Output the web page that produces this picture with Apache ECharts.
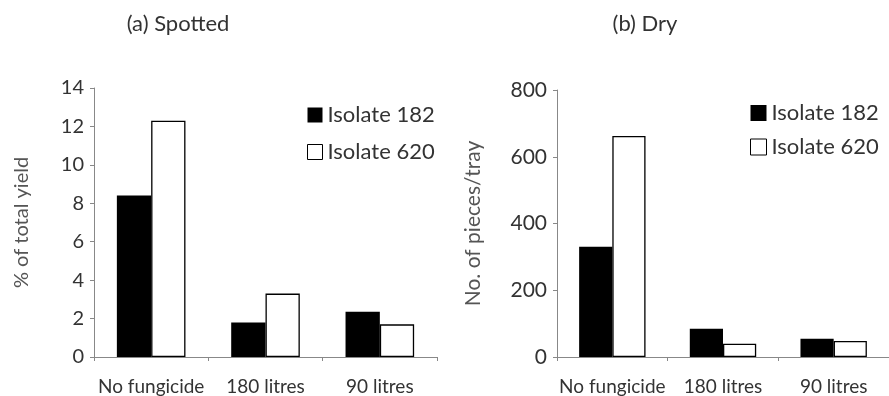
<!DOCTYPE html>
<html><head><meta charset="utf-8">
<script src="https://cdn.jsdelivr.net/npm/echarts@6/dist/echarts.min.js"></script>
<style>html,body{margin:0;padding:0;background:#fff}#c{width:889px;height:396px}</style>
</head><body><div id="c"></div>
<script>
var categories = ['No fungicide', '180 litres', '90 litres'];
var seriesNames = ['Isolate 182', 'Isolate 620'];
var spotted182 = [8.4, 1.8, 2.35];
var spotted620 = [12.3, 3.3, 1.7];
var dry182 = [330, 85, 55];
var dry620 = [662, 40, 48];
var spottedTicks = [0, 14, 2];
var dryTicks = [0, 800, 200];

var FONT = 'Lato';
var TXT = '#333';
var chart = echarts.init(document.getElementById('c'));
function xAxis(gi){
  return {type:'category', gridIndex:gi, data:categories,
    axisLine:{lineStyle:{color:'#888', width:1}},
    axisTick:{show:true, length:4, lineStyle:{color:'#888'}},
    axisLabel:{color:TXT, fontFamily:FONT, fontSize:19, margin:20, interval:0}};
}
function yAxis(gi, t, name, gap, fs, nfs){
  return {type:'value', gridIndex:gi, min:t[0], max:t[1], interval:t[2],
    name:name, nameLocation:'middle', nameRotate:90, nameGap:gap,
    nameTextStyle:{color:'#555', fontFamily:FONT, fontSize:nfs},
    splitLine:{show:false},
    axisLine:{show:true, lineStyle:{color:'#888', width:1}},
    axisTick:{show:true, length:4, lineStyle:{color:'#888'}},
    axisLabel:{color:TXT, fontFamily:FONT, fontSize:fs, margin:10}};
}
function bar(name, gi, data, filled){
  return {type:'bar', name:name, xAxisIndex:gi, yAxisIndex:gi, data:data,
    barGap:'0%', barCategoryGap:'40%',
    itemStyle:{color: filled ? '#000' : '#fff', borderColor:'#000', borderWidth: filled ? 0 : 1.3}};
}
function legendData(){
  return [{name:seriesNames[0], itemStyle:{color:'#000', borderWidth:0}},
          {name:seriesNames[1], itemStyle:{color:'#fff', borderColor:'#000', borderWidth:1}}];
}
chart.setOption({
  animation:false,
  title:[
    {text:'(a) Spotted', left:178, top:13, padding:0, textAlign:'center', textStyle:{color:TXT, fontFamily:FONT, fontSize:22, fontWeight:'normal'}},
    {text:'(b) Dry', left:645, top:13, padding:0, textAlign:'center', textStyle:{color:TXT, fontFamily:FONT, fontSize:22, fontWeight:'normal'}}
  ],
  legend:[
    {orient:'vertical', left:307, top:103, padding:0, itemWidth:15, itemHeight:15, itemGap:13, itemTextGap:5, icon:'rect',
     data:legendData(), textStyle:{color:TXT, fontFamily:FONT, fontSize:22, lineHeight:24}},
    {orient:'vertical', left:750, top:101, padding:0, itemWidth:16, itemHeight:16, itemGap:10, itemTextGap:5, icon:'rect',
     data:legendData(), textStyle:{color:TXT, fontFamily:FONT, fontSize:22, lineHeight:24}}
  ],
  grid:[
    {left:94, right:452, top:88, bottom:39},
    {left:557, right:0, top:90, bottom:39}
  ],
  xAxis:[xAxis(0), xAxis(1)],
  yAxis:[yAxis(0, spottedTicks, '% of total yield', 62, 20, 20), yAxis(1, dryTicks, 'No. of pieces/tray', 73, 21, 21)],
  series:[
    bar(seriesNames[0], 0, spotted182, true),
    bar(seriesNames[1], 0, spotted620, false),
    bar(seriesNames[0], 1, dry182, true),
    bar(seriesNames[1], 1, dry620, false)
  ]
});
</script></body></html>
